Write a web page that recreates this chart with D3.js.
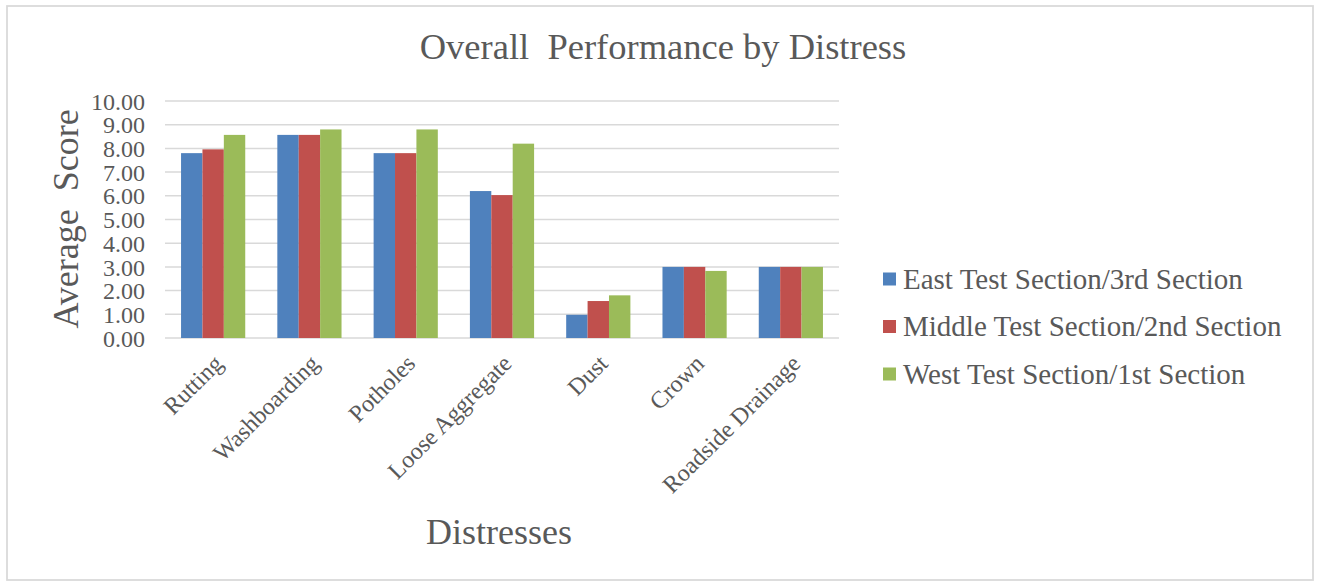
<!DOCTYPE html>
<html>
<head>
<meta charset="utf-8">
<script src="https://cdn.jsdelivr.net/npm/d3@7"></script>
<style>
  body { margin: 0; background: #fff; }
  svg text { font-family: "Liberation Serif", Tinos, "Times New Roman", Times, "DejaVu Serif", serif; fill: #595959; white-space: pre; }
</style>
</head>
<body>
<div id="chart"></div>
<script>
const distresses = ['Rutting', 'Washboarding', 'Potholes', 'Loose Aggregate', 'Dust', 'Crown', 'Roadside Drainage']
const seriesNames = ['East Test Section/3rd Section', 'Middle Test Section/2nd Section', 'West Test Section/1st Section']
const eastScores = [7.8, 8.57, 7.8, 6.2, 0.98, 3.0, 3.0]
const middleScores = [7.96, 8.57, 7.8, 6.03, 1.56, 3.0, 3.0]
const westScores = [8.57, 8.8, 8.8, 8.2, 1.8, 2.83, 3.0]
const yTicks = [0, 1, 2, 3, 4, 5, 6, 7, 8, 9, 10]
const colors = ['#4F81BD', '#C0504D', '#9BBB59']

const series = [eastScores, middleScores, westScores]
const rows = distresses.map((d, i) => ({name: d, values: series.map(s => s[i])}))

const W = 1320, H = 582
const plot = {left: 165, right: 839, top: 101, bottom: 338}
const serif = '"Liberation Serif", Tinos, "Times New Roman", Times, "DejaVu Serif", serif'

const svg = d3.select('#chart').append('svg')
  .attr('width', W)
  .attr('height', H)
  .attr('font-family', serif)

svg.append('rect')
  .attr('x', 7).attr('y', 6)
  .attr('width', 1306).attr('height', 574)
  .attr('fill', '#fff')
  .attr('stroke', '#d9d9d9')
  .attr('stroke-width', 1.75)

const x0 = d3.scaleBand().domain(distresses).range([plot.left, plot.right])
  .paddingInner(1 / 3).paddingOuter(1 / 6)
const x1 = d3.scaleBand().domain(d3.range(series.length)).range([0, x0.bandwidth()])
const y = d3.scaleLinear().domain([0, 10]).range([plot.bottom, plot.top])

svg.append('g')
  .selectAll('line').data(yTicks).enter().append('line')
    .attr('x1', plot.left).attr('x2', plot.right)
    .attr('y1', d => y(d)).attr('y2', d => y(d))
    .attr('stroke', '#d9d9d9')
    .attr('stroke-width', 1.5)

const yAxis = svg.append('g')
  .attr('transform', `translate(${plot.left - 20},0)`)
  .call(d3.axisLeft(y).tickValues(yTicks).tickFormat(d3.format('.2f')).tickSize(0).tickPadding(0))
  .attr('font-family', serif)
yAxis.select('.domain').remove()
yAxis.selectAll('text')
  .attr('font-size', 24)
  .attr('fill', '#595959')
  .attr('dy', '0.34em')

svg.append('g')
  .selectAll('g').data(rows).enter().append('g')
    .attr('transform', d => `translate(${x0(d.name)},0)`)
  .selectAll('rect').data(d => d.values).enter().append('rect')
    .attr('x', (d, i) => x1(i))
    .attr('width', x1.bandwidth())
    .attr('y', d => y(d))
    .attr('height', d => y(0) - y(d))
    .attr('fill', (d, i) => colors[i])

const xAxis = svg.append('g')
  .attr('transform', `translate(0,${plot.bottom})`)
  .call(d3.axisBottom(x0).tickSize(0).tickPadding(0))
  .attr('font-family', serif)
xAxis.select('.domain').remove()
xAxis.selectAll('text')
  .attr('font-size', 24)
  .attr('fill', '#595959')
  .attr('text-anchor', 'end')
  .attr('y', 0)
  .attr('dy', 0)
  .attr('transform', 'translate(11,27) rotate(-45)')

svg.append('text')
  .attr('x', 663).attr('y', 59)
  .attr('text-anchor', 'middle')
  .attr('font-size', 36.5)
  .text('Overall  Performance by Distress')

svg.append('text')
  .attr('x', 499).attr('y', 544)
  .attr('text-anchor', 'middle')
  .attr('font-size', 36)
  .text('Distresses')

svg.append('text')
  .attr('transform', 'translate(78,219) rotate(-90)')
  .attr('text-anchor', 'middle')
  .attr('font-size', 36)
  .text('Average  Score')

const legend = svg.append('g')
  .selectAll('g').data(seriesNames).enter().append('g')
    .attr('transform', (d, i) => `translate(883,${279 + i * 47.5})`)
legend.append('rect')
  .attr('x', 0).attr('y', -6.5)
  .attr('width', 13).attr('height', 13)
  .attr('fill', (d, i) => colors[i])
legend.append('text')
  .attr('x', 20).attr('y', 0)
  .attr('dy', '0.34em')
  .attr('font-size', 29)
  .text(d => d)
</script>
</body>
</html>
